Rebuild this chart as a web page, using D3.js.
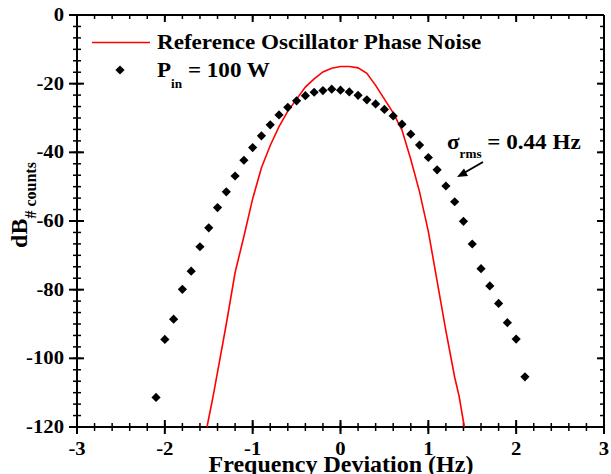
<!DOCTYPE html>
<html>
<head>
<meta charset="utf-8">
<script src="https://cdn.jsdelivr.net/npm/d3@7"></script>
<style>
html,body{margin:0;padding:0;background:#fff;}
svg{display:block;}
text{font-family:"Liberation Serif","Times New Roman",serif;font-weight:bold;fill:#000;}
</style>
</head>
<body>
<svg id="chart" width="611" height="474"></svg>
<script>
// ---- data ----
const xTicks = [-3, -2, -1, 0, 1, 2, 3];
const yTicks = [0, -20, -40, -60, -80, -100, -120];
const measX = [-2.1,-2.0,-1.9,-1.8,-1.7,-1.6,-1.5,-1.4,-1.3,-1.2,-1.1,-1.0,-0.9,-0.8,-0.7,-0.6,-0.5,-0.4,-0.3,-0.2,-0.1,0.0,
               0.1,0.2,0.3,0.4,0.5,0.6,0.7,0.8,0.9,1.0,1.1,1.2,1.3,1.4,1.5,1.6,1.7,1.8,1.9,2.0,2.1];
const measY = [-111.4,-94.5,-88.6,-79.9,-74.6,-67.5,-62.0,-56.1,-51.5,-46.9,-42.3,-38.6,-35.2,-32.0,-29.1,-26.9,-25.0,-23.5,-22.5,-22.0,-21.6,-21.9,
               -22.4,-23.4,-24.7,-25.9,-27.5,-29.4,-31.8,-34.7,-37.9,-41.5,-45.1,-49.8,-54.4,-60.1,-66.7,-73.9,-78.9,-84.0,-89.6,-94.4,-105.4];
const refX = [-1.52,-1.45,-1.4,-1.3,-1.2,-1.1,-1.0,-0.9,-0.8,-0.7,-0.6,-0.5,-0.4,-0.3,-0.2,-0.1,0.0,0.1,0.2,0.3,0.4,0.5,0.6,0.7,0.8,0.9,1.0,1.1,1.2,1.3,1.35,1.41];
const refY = [-120,-111,-104,-90,-75,-64.5,-53.5,-44.5,-38,-32.5,-28,-24.5,-21,-18.6,-16.6,-15.5,-15,-15,-15.4,-17,-20.5,-24.5,-28.5,-33.5,-42,-51.5,-63,-77.5,-92,-105.5,-111,-120];
const legendLabels = ["Reference Oscillator Phase Noise", "P", "in", " = 100 W"];
const annotation = ["σ", "rms", " = 0.44 Hz"];
const xLabel = "Frequency Deviation (Hz)";
const yLabel = ["dB", "# counts"];

// ---- layout ----
const svg = d3.select("#chart");
const L = 77, R = 604, T = 15, B = 427;
const x = d3.scaleLinear().domain([-3, 3]).range([L, R]);
const y = d3.scaleLinear().domain([-120, 0]).range([B, T]);

const minorX = d3.range(-3, 3.0001, 0.2).map(v => +v.toFixed(2));
const minorY = d3.range(-120, 0.0001, 20 / 6);

function stretchText(g, tx, ty, parts, size, anchor, sx, rot) {
  const t = g.append("text")
    .attr("transform", `translate(${tx},${ty})` + (rot ? ` rotate(${rot})` : "") + ` scale(${sx},1)`)
    .attr("text-anchor", anchor || "start")
    .style("font-size", size + "px");
  parts.forEach(p => {
    const ts = t.append("tspan").text(p.t);
    if (p.size) ts.style("font-size", p.size + "px");
    if (p.dy) ts.attr("dy", p.dy);
  });
  return t;
}

const axisStroke = 2;
const gAx = svg.append("g");

// bottom axis: ticks crossing
const gBottom = gAx.append("g").attr("transform", `translate(0,${B})`);
gBottom.append("line").attr("x1", L).attr("x2", R).attr("stroke", "#000").attr("stroke-width", axisStroke);
gBottom.selectAll(".mn").data(minorX).join("line")
  .attr("x1", d => x(d)).attr("x2", d => x(d)).attr("y1", -4).attr("y2", 4)
  .attr("stroke", "#000").attr("stroke-width", 1.5);
gBottom.selectAll(".mj").data(xTicks).join("line")
  .attr("x1", d => x(d)).attr("x2", d => x(d)).attr("y1", -7).attr("y2", 7)
  .attr("stroke", "#000").attr("stroke-width", 2);

// top axis: inward ticks
const gTop = gAx.append("g").attr("transform", `translate(0,${T})`);
gTop.append("line").attr("x1", L).attr("x2", R).attr("stroke", "#000").attr("stroke-width", axisStroke);
gTop.selectAll(".mn").data(minorX).join("line")
  .attr("x1", d => x(d)).attr("x2", d => x(d)).attr("y1", 0).attr("y2", 4)
  .attr("stroke", "#000").attr("stroke-width", 1.5);
gTop.selectAll(".mj").data(xTicks).join("line")
  .attr("x1", d => x(d)).attr("x2", d => x(d)).attr("y1", 0).attr("y2", 7)
  .attr("stroke", "#000").attr("stroke-width", 2);

// left axis: crossing
const gLeft = gAx.append("g").attr("transform", `translate(${L},0)`);
gLeft.append("line").attr("y1", T).attr("y2", B).attr("stroke", "#000").attr("stroke-width", axisStroke);
gLeft.selectAll(".mn").data(minorY).join("line")
  .attr("y1", d => y(d)).attr("y2", d => y(d)).attr("x1", -4).attr("x2", 4)
  .attr("stroke", "#000").attr("stroke-width", 1.5);
gLeft.selectAll(".mj").data(yTicks).join("line")
  .attr("y1", d => y(d)).attr("y2", d => y(d)).attr("x1", -8).attr("x2", 7)
  .attr("stroke", "#000").attr("stroke-width", 2);

// right axis: inward
const gRight = gAx.append("g").attr("transform", `translate(${R},0)`);
gRight.append("line").attr("y1", T).attr("y2", B).attr("stroke", "#000").attr("stroke-width", axisStroke);
gRight.selectAll(".mn").data(minorY).join("line")
  .attr("y1", d => y(d)).attr("y2", d => y(d)).attr("x1", -4).attr("x2", 0)
  .attr("stroke", "#000").attr("stroke-width", 1.5);
gRight.selectAll(".mj").data(yTicks).join("line")
  .attr("y1", d => y(d)).attr("y2", d => y(d)).attr("x1", -7).attr("x2", 0)
  .attr("stroke", "#000").attr("stroke-width", 2);

// tick labels
const fmt = v => String(v);
xTicks.forEach(v => stretchText(svg, x(v), 455, [{t: fmt(v)}], 18, "middle", 1.15));
yTicks.forEach(v => stretchText(svg, 64, y(v) + 6, [{t: fmt(v)}], 18, "end", 1.15));

// axis titles
stretchText(svg, 341, 472, [{t: xLabel}], 24, "middle", 1.0);
stretchText(svg, 27, 205, [{t: yLabel[0]}, {t: yLabel[1], size: 16, dy: 9}], 24, "middle", 1.0, -90);

// reference line
const line = d3.line().x(d => x(d[0])).y(d => y(d[1]));
svg.append("path")
  .datum(refX.map((v, i) => [v, refY[i]]))
  .attr("d", line)
  .attr("fill", "none").attr("stroke", "#ff0000").attr("stroke-width", 1.6);

// measured diamonds
const dia = "M0,-4.6L4.6,0L0,4.6L-4.6,0Z";
svg.append("g").selectAll("path").data(measX.map((v, i) => [v, measY[i]])).join("path")
  .attr("d", dia)
  .attr("transform", d => `translate(${x(d[0])},${y(d[1])})`)
  .attr("fill", "#000");

// legend
svg.append("line").attr("x1", 92).attr("x2", 150).attr("y1", 42.5).attr("y2", 42.5)
  .attr("stroke", "#ff0000").attr("stroke-width", 1.6);
stretchText(svg, 157, 49, [{t: legendLabels[0]}], 21, "start", 1.1);
svg.append("path").attr("d", dia).attr("transform", "translate(120,70)").attr("fill", "#000");
stretchText(svg, 157, 77, [{t: legendLabels[1]}, {t: legendLabels[2], size: 12, dy: 11}, {t: legendLabels[3], size: 21, dy: -11}], 21, "start", 1.1);

// annotation
stretchText(svg, 447, 149, [{t: annotation[0]}, {t: annotation[1], size: 12, dy: 9}, {t: annotation[2], size: 21, dy: -9}], 21, "start", 1.1);
svg.append("line").attr("x1", 483).attr("y1", 162).attr("x2", 463).attr("y2", 173.5)
  .attr("stroke", "#000").attr("stroke-width", 2);
svg.append("path").attr("d", "M457,177L464,168.5L468,176Z").attr("fill", "#000");
</script>
</body>
</html>
